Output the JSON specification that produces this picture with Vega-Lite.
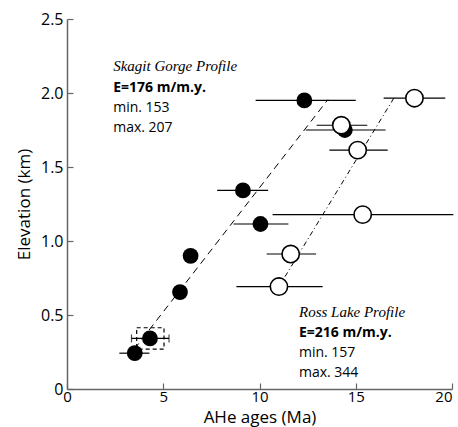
{
  "$schema": "https://vega.github.io/schema/vega-lite/v6.json",
  "width": 385,
  "height": 370,
  "autosize": {"type": "none"},
  "padding": {"left": 67, "top": 19, "right": 6, "bottom": 38},
  "config": {
    "view": {"stroke": null},
    "font": "Open Sans",
    "axis": {
      "grid": false,
      "domainColor": "#666666",
      "domainWidth": 1.5,
      "tickColor": "#666666",
      "tickWidth": 1.2,
      "labelFont": "Open Sans",
      "labelFontSize": 16,
      "labelColor": "#000000",
      "titleFont": "Open Sans",
      "titleFontSize": 17,
      "titleFontWeight": "normal",
      "titleColor": "#000000"
    }
  },
  "datasets": {
    "samples": [
      {"profile": "Skagit", "age": 12.33, "elev": 1.95, "lo": 9.8, "hi": 15.0, "boxed": false},
      {"profile": "Skagit", "age": 14.43, "elev": 1.75, "lo": 12.4, "hi": 16.55, "boxed": false},
      {"profile": "Skagit", "age": 9.14, "elev": 1.342, "lo": 7.8, "hi": 10.45, "boxed": false},
      {"profile": "Skagit", "age": 10.05, "elev": 1.115, "lo": 8.65, "hi": 11.5, "boxed": false},
      {"profile": "Skagit", "age": 6.42, "elev": 0.9, "lo": null, "hi": null, "boxed": false},
      {"profile": "Skagit", "age": 5.87, "elev": 0.655, "lo": null, "hi": null, "boxed": false},
      {"profile": "Skagit", "age": 4.31, "elev": 0.342, "lo": 3.35, "hi": 5.3, "boxed": true},
      {"profile": "Skagit", "age": 3.52, "elev": 0.242, "lo": 2.72, "hi": 4.28, "boxed": false},
      {"profile": "Ross", "age": 18.05, "elev": 1.965, "lo": 16.45, "hi": 19.65, "boxed": false},
      {"profile": "Ross", "age": 14.25, "elev": 1.782, "lo": 12.97, "hi": 15.6, "boxed": false},
      {"profile": "Ross", "age": 15.1, "elev": 1.614, "lo": 13.63, "hi": 16.66, "boxed": false},
      {"profile": "Ross", "age": 15.36, "elev": 1.178, "lo": 10.68, "hi": 20.07, "boxed": false},
      {"profile": "Ross", "age": 11.62, "elev": 0.912, "lo": 10.37, "hi": 12.94, "boxed": false},
      {"profile": "Ross", "age": 11.01, "elev": 0.692, "lo": 8.8, "hi": 13.28, "boxed": false}
    ],
    "fits": [
      {"profile": "Skagit", "age": 3.5, "elev": 0.27},
      {"profile": "Skagit", "age": 13.55, "elev": 1.955},
      {"profile": "Ross", "age": 11.0, "elev": 0.69},
      {"profile": "Ross", "age": 17.0, "elev": 1.97}
    ],
    "box": [{"x1": 3.62, "x2": 5.04, "y1": 0.27, "y2": 0.414}],
    "notes": [
      {"kind": "name", "x": 2.4, "y": 2.149, "text": "Skagit Gorge Profile"},
      {"kind": "rate", "x": 2.4, "y": 2.007, "text": "E=176 m/m.y."},
      {"kind": "range", "x": 2.4, "y": 1.872, "text": "min. 153"},
      {"kind": "range", "x": 2.4, "y": 1.736, "text": "max. 207"},
      {"kind": "name", "x": 12.05, "y": 0.486, "text": "Ross Lake Profile"},
      {"kind": "rate", "x": 12.05, "y": 0.348, "text": "E=216 m/m.y."},
      {"kind": "range", "x": 12.05, "y": 0.213, "text": "min. 157"},
      {"kind": "range", "x": 12.05, "y": 0.078, "text": "max. 344"}
    ]
  },
  "layer": [
    {
      "data": {"name": "fits"},
      "transform": [{"filter": "datum.profile === 'Skagit'"}],
      "mark": {"type": "line", "color": "#000000", "strokeWidth": 1, "strokeDash": [7, 5]},
      "encoding": {
        "x": {"field": "age", "type": "quantitative", "scale": {"domain": [0, 20], "nice": false}, "title": "AHe ages (Ma)",
              "axis": {"tickCount": 5, "tickSize": -6, "labelPadding": 6, "labelFontSize": 15, "labelFlush": false, "labelOverlap": false,
                       "titleBaseline": "alphabetic", "titleY": 33,
                       "labelAlign": {"expr": "datum.value === 20 ? 'right' : 'center'"}}},
        "y": {"field": "elev", "type": "quantitative", "scale": {"domain": [0, 2.5], "nice": false}, "title": "Elevation (km)",
              "axis": {"tickCount": 5, "tickSize": -6, "labelPadding": 10, "titlePadding": 7, "labelOverlap": false,
                       "labelExpr": "datum.value === 0 ? '0' : format(datum.value, '.1f')"}}
      }
    },
    {
      "data": {"name": "fits"},
      "transform": [{"filter": "datum.profile === 'Ross'"}],
      "mark": {"type": "line", "color": "#000000", "strokeWidth": 1, "strokeDash": [5, 3, 1, 3]},
      "encoding": {
        "x": {"field": "age", "type": "quantitative", "title": "AHe ages (Ma)"},
        "y": {"field": "elev", "type": "quantitative", "title": "Elevation (km)"}
      }
    },
    {
      "data": {"name": "box"},
      "mark": {"type": "rect", "fill": null, "filled": false, "stroke": "#000000", "strokeWidth": 1.2, "strokeDash": [4, 3]},
      "encoding": {
        "x": {"field": "x1", "type": "quantitative", "title": "AHe ages (Ma)"},
        "x2": {"field": "x2"},
        "y": {"field": "y1", "type": "quantitative", "title": "Elevation (km)"},
        "y2": {"field": "y2"}
      }
    },
    {
      "data": {"name": "samples"},
      "transform": [{"filter": "datum.lo != null"}],
      "mark": {"type": "rule", "color": "#000000", "strokeWidth": 1.2},
      "encoding": {
        "x": {"field": "lo", "type": "quantitative", "title": "AHe ages (Ma)"},
        "x2": {"field": "hi"},
        "y": {"field": "elev", "type": "quantitative", "title": "Elevation (km)"}
      }
    },
    {
      "data": {"name": "samples"},
      "transform": [{"filter": "datum.boxed"}],
      "mark": {"type": "tick", "orient": "vertical", "color": "#000000", "size": 8, "thickness": 1.2},
      "encoding": {
        "x": {"field": "lo", "type": "quantitative", "title": "AHe ages (Ma)"},
        "y": {"field": "elev", "type": "quantitative", "title": "Elevation (km)"}
      }
    },
    {
      "data": {"name": "samples"},
      "transform": [{"filter": "datum.boxed"}],
      "mark": {"type": "tick", "orient": "vertical", "color": "#000000", "size": 8, "thickness": 1.2},
      "encoding": {
        "x": {"field": "hi", "type": "quantitative", "title": "AHe ages (Ma)"},
        "y": {"field": "elev", "type": "quantitative", "title": "Elevation (km)"}
      }
    },
    {
      "data": {"name": "samples"},
      "transform": [{"filter": "datum.profile === 'Skagit'"}],
      "mark": {"type": "point", "shape": "circle", "filled": true, "color": "#000000", "size": 250, "opacity": 1},
      "encoding": {
        "x": {"field": "age", "type": "quantitative", "title": "AHe ages (Ma)"},
        "y": {"field": "elev", "type": "quantitative", "title": "Elevation (km)"}
      }
    },
    {
      "data": {"name": "samples"},
      "transform": [{"filter": "datum.profile === 'Ross'"}],
      "mark": {"type": "point", "shape": "circle", "filled": true, "fill": "#ffffff", "stroke": "#000000", "strokeWidth": 1.6, "size": 300, "opacity": 1},
      "encoding": {
        "x": {"field": "age", "type": "quantitative", "title": "AHe ages (Ma)"},
        "y": {"field": "elev", "type": "quantitative", "title": "Elevation (km)"}
      }
    },
    {
      "data": {"name": "notes"},
      "transform": [{"filter": "datum.kind === 'name'"}],
      "mark": {"type": "text", "align": "left", "baseline": "alphabetic", "font": "Liberation Serif", "fontStyle": "italic", "fontSize": 15, "color": "#000000"},
      "encoding": {
        "x": {"field": "x", "type": "quantitative", "title": "AHe ages (Ma)"},
        "y": {"field": "y", "type": "quantitative", "title": "Elevation (km)"},
        "text": {"field": "text"}
      }
    },
    {
      "data": {"name": "notes"},
      "transform": [{"filter": "datum.kind === 'rate'"}],
      "mark": {"type": "text", "align": "left", "baseline": "alphabetic", "font": "Open Sans", "fontWeight": "bold", "fontSize": 14, "color": "#000000"},
      "encoding": {
        "x": {"field": "x", "type": "quantitative", "title": "AHe ages (Ma)"},
        "y": {"field": "y", "type": "quantitative", "title": "Elevation (km)"},
        "text": {"field": "text"}
      }
    },
    {
      "data": {"name": "notes"},
      "transform": [{"filter": "datum.kind === 'range'"}],
      "mark": {"type": "text", "align": "left", "baseline": "alphabetic", "font": "Open Sans", "fontSize": 14, "color": "#000000"},
      "encoding": {
        "x": {"field": "x", "type": "quantitative", "title": "AHe ages (Ma)"},
        "y": {"field": "y", "type": "quantitative", "title": "Elevation (km)"},
        "text": {"field": "text"}
      }
    }
  ]
}
